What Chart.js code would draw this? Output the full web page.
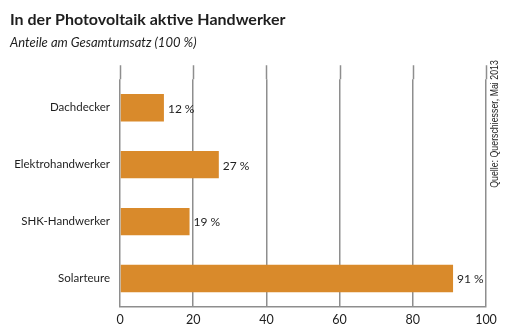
<!DOCTYPE html>
<html>
<head>
<meta charset="utf-8">
<script src="https://cdn.jsdelivr.net/npm/chart.js@4"></script>
<style>
  html, body { margin: 0; padding: 0; background: #fff; }
  #wrap { width: 506px; height: 335px; }
</style>
</head>
<body>
<div id="wrap"><canvas id="handwerkChart" width="506" height="335"></canvas></div>
<script>
const categories = ['Dachdecker', 'Elektrohandwerker', 'SHK-Handwerker', 'Solarteure'];
const shares = [12, 27, 19, 91];
const xTicks = [0, 20, 40, 60, 80, 100];
const sourceNote = 'Quelle: Querschiesser, Mai 2013';

const barColor = '#d98a2b';
const gridColor = '#8e8e8e';
const textColor = '#1e1e1e';

// value labels to the right of each bar
const valueLabels = {
    id: 'valueLabels',
    afterDatasetsDraw(chart) {
        const c = chart.ctx;
        const meta = chart.getDatasetMeta(0);
        c.save();
        c.font = '12px Lato';
        c.fillStyle = textColor;
        c.textAlign = 'left';
        c.textBaseline = 'middle';
        meta.data.forEach((bar, i) => {
            c.fillText(shares[i] + '\u202f%', bar.x + 4, bar.y + 1);
        });
        c.restore();
    }
};

// grid lines run a little above the first bar row; source note on the right
const extras = {
    id: 'extras',
    beforeDatasetsDraw(chart) {
        const c = chart.ctx;
        const area = chart.chartArea;
        const xs = chart.scales.x;
        c.save();
        c.strokeStyle = gridColor;
        c.lineWidth = 1.5;
        xTicks.forEach(v => {
            const px = Math.round(xs.getPixelForValue(v)) + 0.5;
            c.beginPath();
            c.moveTo(px, area.top - 14);
            c.lineTo(px, area.top);
            c.stroke();
        });
        c.restore();
    },
    afterDraw(chart) {
        const c = chart.ctx;
        c.save();
        c.translate(chart.width - 11, 124);
        c.rotate(-Math.PI / 2);
        c.scale(0.8, 1);
        c.font = '11px "Liberation Sans"';
        c.fillStyle = textColor;
        c.textAlign = 'center';
        c.textBaseline = 'middle';
        c.fillText(sourceNote, 0, 0);
        c.restore();
    }
};

const ctx = document.getElementById('handwerkChart').getContext('2d');

new Chart(ctx, {
    type: 'bar',
    data: {
        labels: categories,
        datasets: [{
            data: shares,
            backgroundColor: barColor,
            borderWidth: 0,
            categoryPercentage: 1,
            barPercentage: 0.48
        }]
    },
    options: {
        indexAxis: 'y',
        responsive: false,
        animation: false,
        layout: { padding: { left: 10, right: 20, top: 0, bottom: 3 } },
        plugins: {
            legend: { display: false },
            tooltip: { enabled: false },
            title: {
                display: true,
                text: 'In der Photovoltaik aktive Handwerker',
                align: 'start',
                color: textColor,
                font: { family: 'Lato', size: 16, weight: 'bold', lineHeight: 1.25 },
                padding: { top: 10, bottom: 3 }
            },
            subtitle: {
                display: true,
                text: 'Anteile am Gesamtumsatz (100 %)',
                align: 'start',
                color: textColor,
                font: { family: 'Lato', size: 13, style: 'italic', lineHeight: 1.25 },
                padding: { top: 2, bottom: 28 }
            }
        },
        scales: {
            x: {
                min: 0,
                max: 100,
                afterBuildTicks(axis) {
                    axis.ticks = xTicks.map(v => ({ value: v }));
                },
                grid: { color: gridColor, lineWidth: 1.5, drawTicks: false },
                border: { color: gridColor, width: 1.5 },
                ticks: {
                    color: textColor,
                    padding: 5,
                    maxRotation: 0,
                    font: { family: 'Lato', size: 12.5 }
                }
            },
            y: {
                grid: { display: false, drawTicks: false },
                border: { display: false },
                afterFit(axis) { axis.width = 110; },
                ticks: {
                    color: textColor,
                    padding: 10,
                    font: { family: 'Lato', size: 11.5 }
                }
            }
        }
    },
    plugins: [valueLabels, extras]
});
</script>
</body>
</html>
